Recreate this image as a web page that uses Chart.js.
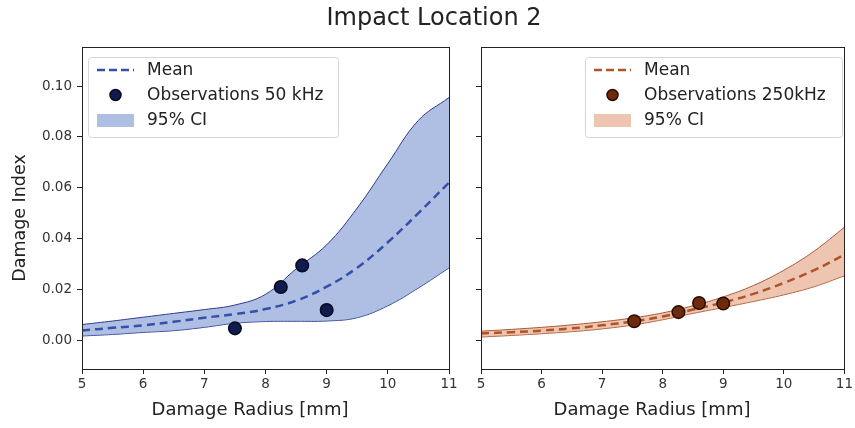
<!DOCTYPE html>
<html><head><meta charset="utf-8">
<script src="https://cdn.jsdelivr.net/npm/chart.js@4"></script>
<style>
html,body{margin:0;padding:0;background:#fff;width:855px;height:428px;overflow:hidden;font-family:"DejaVu Sans",sans-serif}
#title{position:absolute;left:234px;top:2px;width:400px;text-align:center;font-size:24px;color:#222;line-height:30px}
#c1wrap{position:absolute;left:0;top:0;width:460px;height:428px}
#c2wrap{position:absolute;left:460px;top:0;width:395px;height:428px}
canvas{display:block}
</style></head>
<body>
<div id="c1wrap"><canvas id="c1" width="460" height="428"></canvas></div>
<div id="c2wrap"><canvas id="c2" width="395" height="428"></canvas></div>
<div id="title">Impact Location 2</div>
<script>
const radiusGrid = [5,5.5,6,6.5,7,7.5,8,8.5,9,9.5,10,10.5,11];
const xTicks = [5,6,7,8,9,10,11];
const yTicks = [0,0.02,0.04,0.06,0.08,0.10];

const mean50 =  [0.0038,0.0048,0.0058,0.0072,0.0088,0.0102,0.0122,0.0155,0.0210,0.0285,0.0385,0.0500,0.0620];
const upper50 = [0.0061,0.0075,0.0090,0.0105,0.0120,0.0138,0.0180,0.0280,0.0375,0.0520,0.0695,0.0865,0.0955];
const lower50 = [0.0016,0.0022,0.0030,0.0037,0.0050,0.0066,0.0073,0.0074,0.0075,0.0088,0.0135,0.0205,0.0284];
const obsX50 = [7.5,8.25,8.6,9.0];
const obsY50 = [0.0046,0.0209,0.0294,0.0118];

const mean250 =  [0.0026,0.0031,0.0037,0.0046,0.0058,0.0073,0.0093,0.0120,0.0148,0.0182,0.0225,0.0275,0.0336];
const upper250 = [0.0035,0.0042,0.0050,0.0060,0.0072,0.0087,0.0107,0.0135,0.0170,0.0215,0.0275,0.0350,0.0444];
const lower250 = [0.0012,0.0018,0.0025,0.0033,0.0044,0.0059,0.0080,0.0105,0.0128,0.0152,0.0178,0.0210,0.0253];
const obsX250 = [7.53,8.26,8.6,9.0];
const obsY250 = [0.0074,0.0110,0.0146,0.0144];

const pts = (xs, ys) => xs.map((x,i)=>({x:x, y:ys[i]}));
const FONT = '"DejaVu Sans"';

const frameLegend = {
  id:'frameLegend',
  afterDraw(chart, args, opts){
    const ctx = chart.ctx, a = chart.chartArea;
    ctx.save();
    ctx.strokeStyle = '#222'; ctx.lineWidth = 1;
    ctx.strokeRect(Math.round(a.left)+0.5, Math.round(a.top)+0.5, Math.round(a.right-a.left), Math.round(a.bottom-a.top));
    const L = opts;
    // axis titles
    ctx.fillStyle = '#222';
    ctx.textAlign = 'center'; ctx.textBaseline = 'middle';
    ctx.font = '18px ' + FONT;
    ctx.fillText(L.xTitle, L.xTitleX, 410);
    if (L.yTitle){
      ctx.save();
      ctx.translate(20, 218); ctx.rotate(-Math.PI/2);
      ctx.font = '17.5px ' + FONT;
      ctx.fillText(L.yTitle, 0, 0);
      ctx.restore();
    }
    // legend
    const bx = L.x, by = L.y, bw = L.w, bh = L.h;
    ctx.fillStyle = 'rgba(255,255,255,0.85)';
    ctx.strokeStyle = '#d6d6d6';
    ctx.beginPath();
    if (ctx.roundRect) ctx.roundRect(bx+0.5, by+0.5, bw, bh, 3); else ctx.rect(bx+0.5,by+0.5,bw,bh);
    ctx.fill(); ctx.stroke();
    const rows = [by+13, by+38, by+63];
    const hx = bx+9, hw = 37, tx = bx+59;
    ctx.strokeStyle = L.meanColor; ctx.lineWidth = 2.5; ctx.setLineDash([8,4]);
    ctx.beginPath(); ctx.moveTo(hx, rows[0]); ctx.lineTo(hx+hw, rows[0]); ctx.stroke();
    ctx.setLineDash([]);
    ctx.fillStyle = L.obsColor; ctx.strokeStyle = L.obsEdge; ctx.lineWidth = 1.5;
    ctx.beginPath(); ctx.arc(hx+hw/2, rows[1], 5.5, 0, Math.PI*2); ctx.fill(); ctx.stroke();
    ctx.fillStyle = L.bandColor;
    ctx.fillRect(hx, rows[2]-6, hw, 13);
    ctx.fillStyle = '#222';
    ctx.font = '17px ' + FONT;
    ctx.textAlign = 'left'; ctx.textBaseline = 'middle';
    L.labels.forEach((t,i)=>ctx.fillText(t, tx, rows[i]+1));
    ctx.restore();
  }
};

function makeChart(id, cfg){
  const yAxisWidth = cfg.yWidth;
  return new Chart(document.getElementById(id), {
    type:'line',
    data:{datasets:[
      {label:cfg.labels[1], data:pts(cfg.obsX, cfg.obsY), showLine:false, pointRadius:6.3, pointBackgroundColor:cfg.obsColor, pointBorderColor:cfg.obsEdge, pointBorderWidth:1.5},
      {label:cfg.labels[0], data:pts(radiusGrid, cfg.mean), borderColor:cfg.meanColor, borderWidth:2.5, borderDash:[8,5], pointRadius:0, fill:false, tension:0.4},
      {label:cfg.labels[2], data:pts(radiusGrid, cfg.upper), borderColor:cfg.edgeColor, borderWidth:1, pointRadius:0, fill:'+1', backgroundColor:cfg.bandColor, tension:0.4},
      {label:'lower', data:pts(radiusGrid, cfg.lower), borderColor:cfg.edgeColor, borderWidth:1, pointRadius:0, fill:false, tension:0.4}
    ]},
    options:{
      responsive:false, animation:false, devicePixelRatio:1,
      layout:{padding:{top:47, right:cfg.padRight, left:0, bottom:0}},
      plugins:{legend:{display:false}, tooltip:{enabled:false}, title:{display:false},
        frameLegend:cfg.legend},
      scales:{
        x:{type:'linear', min:5, max:11, afterBuildTicks:s=>{s.ticks = xTicks.map(v=>({value:v}));},
          afterFit:s=>{s.height = 59;},
          grid:{drawOnChartArea:false, tickLength:5, color:'#222'},
          border:{display:false},
          ticks:{color:'#333', font:{family:'DejaVu Sans', size:13.5}, padding:2, maxRotation:0, callback:v=>String(v)},
          title:{display:false}
        },
        y:{type:'linear', min:-0.0114, max:0.1154, afterBuildTicks:s=>{s.ticks = yTicks.map(v=>({value:v}));},
          afterFit:s=>{s.width = yAxisWidth;},
          grid:{drawOnChartArea:false, tickLength:5, color:'#222'},
          border:{display:false},
          ticks:{display:cfg.showYLabels, color:'#333', font:{family:'DejaVu Sans', size:13.5}, padding:5, callback:v=>v.toFixed(2)},
          title:{display:false}
        }
      }
    },
    plugins:[frameLegend]
  });
}

makeChart('c1', {
  mean:mean50, upper:upper50, lower:lower50, obsX:obsX50, obsY:obsY50,
  labels:['Mean','Observations 50 kHz','95% CI'],
  meanColor:'#3450a8', edgeColor:'#2a3c8c', bandColor:'rgba(120,148,208,0.6)',
  obsColor:'#101c50', obsEdge:'#050a20',
  yWidth:82, padRight:11, showYLabels:true,
  legend:{x:88, y:57, w:250, h:80, labels:['Mean','Observations 50 kHz','95% CI'],
    xTitle:'Damage Radius [mm]', xTitleX:250, yTitle:'Damage Index',
    meanColor:'#3450a8', obsColor:'#101c50', obsEdge:'#050a20', bandColor:'rgba(120,148,208,0.6)'}
});
makeChart('c2', {
  mean:mean250, upper:upper250, lower:lower250, obsX:obsX250, obsY:obsY250,
  labels:['Mean','Observations 250kHz','95% CI'],
  meanColor:'#b0532a', edgeColor:'#a85a35', bandColor:'rgba(222,150,112,0.55)',
  obsColor:'#6e2a0c', obsEdge:'#2a0c00',
  yWidth:21, padRight:6, showYLabels:false,
  legend:{x:125, y:57, w:257, h:80, labels:['Mean','Observations 250kHz','95% CI'],
    xTitle:'Damage Radius [mm]', xTitleX:192, yTitle:null,
    meanColor:'#b0532a', obsColor:'#6e2a0c', obsEdge:'#2a0c00', bandColor:'rgba(222,150,112,0.55)'}
});
</script>
</body></html>
